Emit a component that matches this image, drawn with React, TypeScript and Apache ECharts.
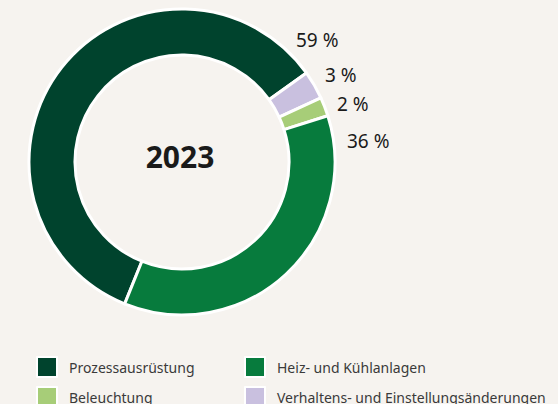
import React, { useEffect, useRef } from "react";
import * as echarts from "echarts";

const categories = [
  "Prozessausrüstung",
  "Verhaltens- und Einstellungsänderungen",
  "Beleuchtung",
  "Heiz- und Kühlanlagen",
];
const values = [59, 3, 2, 36];
const colors = ["#00432d", "#c9c0df", "#a7cd78", "#077b3d"];
const centerTitle = "2023";

// label anchor positions (left, middle) for each slice's percentage
const labelPos: [number, number][] = [
  [296, 40],
  [325, 75],
  [337, 104],
  [347, 141],
];

// legend layout: [category index, left, top]
const legendLayout: [number, number, number][] = [
  [0, 36, 356],
  [3, 244, 356],
  [2, 36, 386],
  [1, 244, 386],
];

const FONT = "'Noto Sans', sans-serif";

export default function App() {
  const ref = useRef<HTMLDivElement>(null);
  useEffect(() => {
    document.body.style.margin = "0";
    document.body.style.background = "#f6f3ef";
    if (!ref.current) return;
    const chart = echarts.init(ref.current, undefined, { renderer: "svg" });
    chart.setOption({
      animation: false,
      backgroundColor: "#f6f3ef",
      textStyle: { fontFamily: FONT },
      legend: legendLayout.map(([idx, left, top]) => ({
        data: [categories[idx]],
        left,
        top,
        padding: 0,
        orient: "horizontal",
        itemWidth: 20,
        itemHeight: 20,
        itemGap: 10,
        icon: "rect",
        selectedMode: false,
        textStyle: { fontFamily: FONT, fontSize: 14, color: "#3a3a3a", padding: [0, 0, 0, 7] },
      })),
      title: {
        text: centerTitle,
        left: 180,
        top: 141,
        padding: 0,
        textAlign: "center",
        textStyle: { fontFamily: FONT, fontSize: 30, fontWeight: "bold", color: "#1a1a1a" },
      },
      series: [
        {
          type: "pie",
          center: [182, 162],
          radius: [107, 153],
          startAngle: 248,
          clockwise: true,
          avoidLabelOverlap: false,
          itemStyle: { borderColor: "#ffffff", borderWidth: 3 },
          label: {
            show: true,
            position: "outside",
            formatter: (p: any) => `${p.value} %`,
            fontFamily: FONT,
            fontSize: 19,
            color: "#1a1a1a",
          },
          labelLine: { show: false },
          labelLayout: (params: any) => {
            const [x, y] = labelPos[params.dataIndex];
            return { x, y, align: "left", verticalAlign: "middle" };
          },
          emphasis: { disabled: true },
          data: categories.map((name, i) => ({
            name,
            value: values[i],
            itemStyle: { color: colors[i] },
          })),
        },
      ],
    });
    return () => chart.dispose();
  }, []);
  return <div ref={ref} style={{ width: 558, height: 404 }} />;
}
